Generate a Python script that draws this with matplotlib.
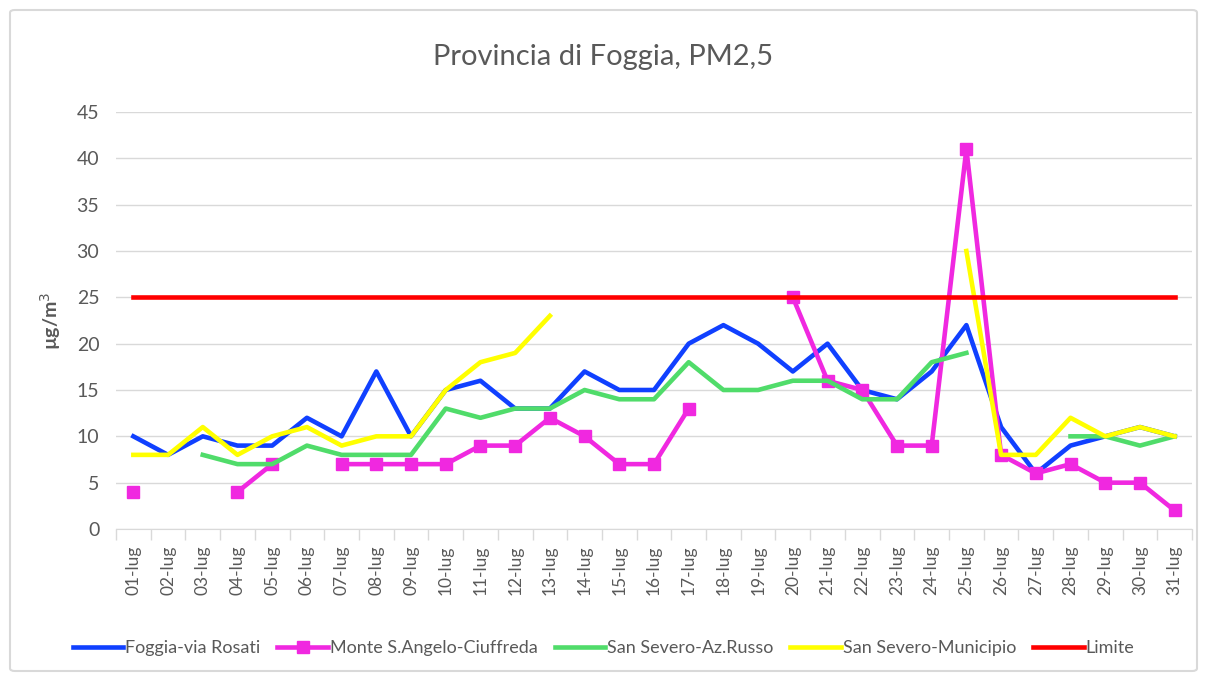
import numpy as np
import matplotlib
matplotlib.use("Agg")
import matplotlib.pyplot as plt
from matplotlib.patches import FancyBboxPatch

plt.rcParams['font.family'] = ['Lato', 'DejaVu Sans']

nan = np.nan

days = ["%02d-lug" % d for d in range(1, 32)]

foggia = [10, 8, 10, 9, 9, 12, 10, 17, 10, 15, 16, 13, 13, 17, 15, 15,
          20, 22, 20, 17, 20, 15, 14, 17, 22, 11, 6, 9, 10, 11, 10]
monte = [4, nan, nan, 4, 7, nan, 7, 7, 7, 7, 9, 9, 12, 10, 7, 7,
         13, nan, nan, 25, 16, 15, 9, 9, 41, 8, 6, 7, 5, 5, 2]
russo = [nan, nan, 8, 7, 7, 9, 8, 8, 8, 13, 12, 13, 13, 15, 14, 14,
         18, 15, 15, 16, 16, 14, 14, 18, 19, nan, nan, 10, 10, 9, 10]
municipio = [8, 8, 11, 8, 10, 11, 9, 10, 10, 15, 18, 19, 23, nan, nan, nan,
             nan, nan, nan, nan, nan, nan, nan, nan, 30, 8, 8, 12, 10, 11, 10]
limite = [25] * 31

x = np.arange(len(days))
grey = "#595959"

fig = plt.figure(figsize=(12.07, 6.81), dpi=100)
# chart border like the excel chart area
border = FancyBboxPatch((10 / 1207, 10 / 681), 1187 / 1207, 661 / 681,
                        boxstyle="round,pad=0,rounding_size=0.004",
                        transform=fig.transFigure, fill=False,
                        edgecolor="#d9d9d9", linewidth=1.5)
fig.patches.append(border)

ax = fig.add_axes([116 / 1207, 1 - 529 / 681, 1076 / 1207, 417 / 681])

lw = 3.3
ax.plot(x, foggia, color="#1040ff", lw=lw, label="Foggia-via Rosati")
ax.plot(x, monte, color="#f028e0", lw=lw, marker="s", markersize=9,
        label="Monte S.Angelo-Ciuffreda")
ax.plot(x, russo, color="#50dc6a", lw=lw, label="San Severo-Az.Russo")
ax.plot(x, municipio, color="#ffff00", lw=lw, label="San Severo-Municipio")
ax.plot(x, limite, color="#ff0000", lw=lw, label="Limite")

ax.set_xlim(-0.5, len(days) - 0.5)
ax.set_ylim(0, 45)
ax.set_yticks(range(0, 50, 5))
ax.set_xticks(x)
ax.set_xticklabels(days, rotation=90, fontsize=12.5, color=grey)
ax.set_xticks(np.arange(-0.5, len(days), 1), minor=True)
ax.tick_params(axis="x", which="major", length=0, pad=12)
ax.tick_params(axis="x", which="minor", length=8, color="#d9d9d9", width=1)
ax.tick_params(axis="y", length=0, labelsize=14, labelcolor=grey, pad=12)

ax.grid(axis="y", color="#d9d9d9", lw=1)
ax.set_axisbelow(True)
for s in ["top", "right", "left"]:
    ax.spines[s].set_visible(False)
ax.spines["bottom"].set_color("#d9d9d9")

ax.set_ylabel("µg/m$^3$", fontsize=14, color=grey, fontweight="bold", labelpad=10)
fig.text(0.5, 1 - 57 / 681, "Provincia di Foggia, PM2,5", ha="center", va="center",
         fontsize=21, color=grey)

fig.legend(loc="center", bbox_to_anchor=(0.5, 1 - 648 / 681), ncol=5,
           frameon=False, fontsize=13, labelcolor=grey, handlelength=2.8,
           handletextpad=0.1, columnspacing=0.95)

fig.savefig("out.png", dpi=100)
